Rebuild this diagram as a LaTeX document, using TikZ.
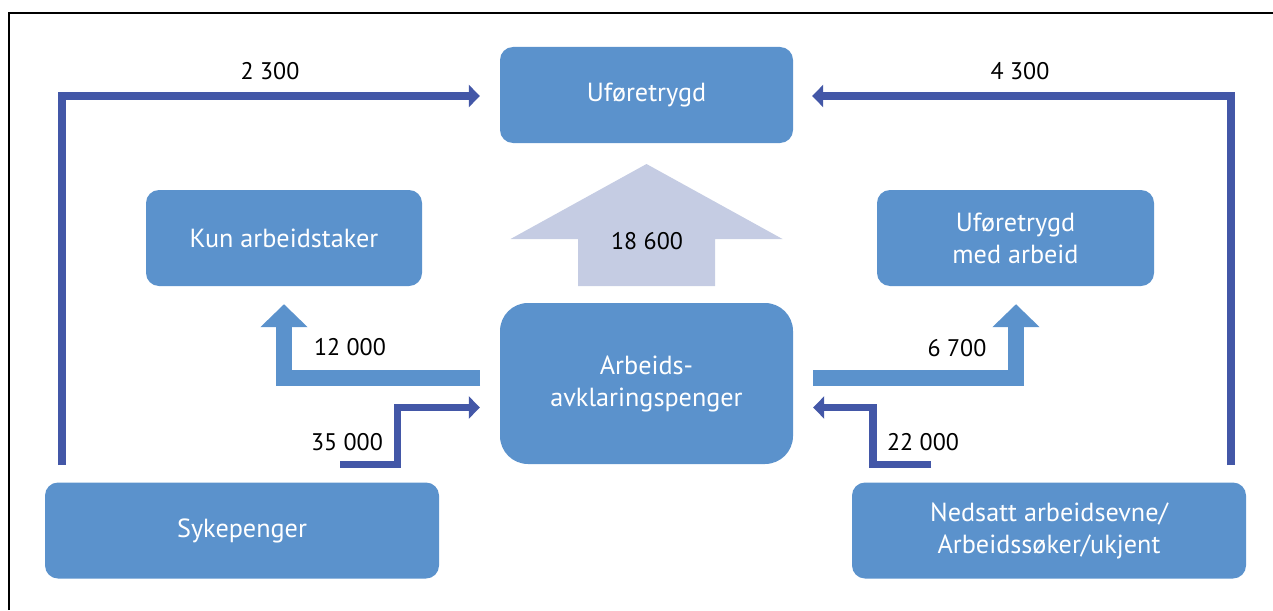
\documentclass[tikz,border=0pt]{standalone}
\usepackage{fontspec}
\setmainfont{PT Sans}
\usetikzlibrary{arrows.meta}
\definecolor{boxblue}{HTML}{5B92CC}
\definecolor{darkblue}{HTML}{4357A7}
\definecolor{lavender}{HTML}{C5CCE3}
\tikzset{
  box/.style={fill=boxblue, text=white, rounded corners=13pt, inner sep=0pt, align=center, font=\fontsize{26.2}{32}\selectfont},
  dk/.style={draw=darkblue, line width=7.5pt, line join=miter, -{Triangle[length=11pt,width=22pt]}},
  lt/.style={draw=boxblue, line width=16pt, line join=miter, -{Triangle[length=23pt,width=46pt]}},
  lbl/.style={font=\fontsize{24}{29}\selectfont, text=black, inner sep=0pt},
}
\begin{document}
\begin{tikzpicture}[x=1pt,y=-1pt]
\useasboundingbox (0,0) rectangle (1273,610);
% frame (top and left only)
\draw[line width=2pt] (8.5,610) -- (8.5,13) -- (1273,13);
% boxes
\node[box, minimum width=293pt, minimum height=96pt] (uf) at (646.5,95) {Uføretrygd};
\node[box, minimum width=276pt, minimum height=96pt] (kun) at (284,238) {Kun arbeidstaker};
\node[box, minimum width=277pt, minimum height=96pt] (ufa) at (1015.5,238) {Uføretrygd\\med arbeid};
\node[box, minimum width=293pt, minimum height=161pt, rounded corners=28pt] (aap) at (646.5,383.5) {Arbeids-\\avklaringspenger};
\node[box, minimum width=394pt, minimum height=96pt] (syk) at (242,530.5) {Sykepenger};
\node[box, minimum width=394pt, minimum height=96pt] (ned) at (1049,530.5) {Nedsatt arbeidsevne/\\Arbeidssøker/ukjent};
% big arrow
\fill[lavender] (646.5,164) -- (782.5,239) -- (715,239) -- (715,286) -- (578,286) -- (578,239) -- (510.5,239) -- cycle;
\node[lbl] (n18600) at (647,241) {18 600};
% coordinates for free ends
\coordinate (s1) at (62,465);
\coordinate (s2) at (1231,465);
\coordinate (c35) at (340,464.5);
\coordinate (c22) at (931,464.5);
\coordinate (c12) at (480,378);
\coordinate (c67) at (813,378);
% dark connectors
\draw[dk] (s1) |- ([xshift=-20pt,yshift=-1pt]uf.west);
\draw[dk] (s2) |- ([xshift=19pt,yshift=-1pt]uf.east);
\draw[dk] (c35) -- (397.5,464.5) -- (397.5,407.5) -- ([xshift=-20pt]aap.west |- 0,407.5);
\draw[dk] (c22) -- (873,464.5) -- (873,407.5) -- ([xshift=20pt]aap.east |- 0,407.5);
% light connectors
\draw[lt] (c12) -| ([yshift=-18pt]kun.south);
\draw[lt] (c67) -| ([yshift=-18pt]ufa.south -| 1016,0);
% labels
\node[lbl] (n2300) at (270,71) {2 300};
\node[lbl] (n4300) at (1020,71) {4 300};
\node[lbl] (n12000) at (350,347) {12 000};
\node[lbl] (n35000) at (347,442) {35 000};
\node[lbl] (n6700) at (957,348) {6 700};
\node[lbl] (n22000) at (923,442) {22 000};
\end{tikzpicture}
\end{document}
